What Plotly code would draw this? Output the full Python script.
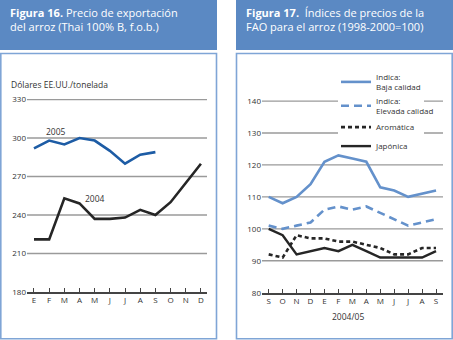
import plotly.graph_objects as go

W, H = 453, 340

# ---- data ----
months_left = ["E", "F", "M", "A", "M", "J", "J", "A", "S", "O", "N", "D"]
price_2004 = [221, 221, 253, 249, 237, 237, 238, 244, 240, 250, 265, 280]
price_2005 = [292, 298, 295, 300, 298, 290, 280, 287, 289]
left_yticks = [180, 210, 240, 270, 300, 330]

months_right = ["S", "O", "N", "D", "E", "F", "M", "A", "M", "J", "J", "A", "S"]
indica_baja = [110, 108, 110, 114, 121, 123, 122, 121, 113, 112, 110, 111, 112]
indica_elevada = [101, 100, 101, 102, 106, 107, 106, 107, 105, 103, 101, 102, 103]
aromatica = [92, 91, 98, 97, 97, 96, 96, 95, 94, 92, 92, 94, 94]
japonica = [100, 98, 92, 93, 94, 93, 95, 93, 91, 91, 91, 91, 93]
right_yticks = [80, 90, 100, 110, 120, 130, 140]


def px(x):
    return x / W


def py(y):
    return 1 - y / H


FONT = "Open Sans"
BLUE_DARK = "#1d5ca5"
BLUE_LIGHT = "#6491cb"
HEADER = "#5b89c3"
BORDER = "#7fa5d6"
GRID = "#9a9a9a"
TXT = "#333333"

fig = go.Figure()

# left chart
fig.add_trace(go.Scatter(x=list(range(len(price_2004))), y=price_2004, mode="lines",
                         line=dict(color="#262626", width=2.6), showlegend=False,
                         xaxis="x", yaxis="y"))
fig.add_trace(go.Scatter(x=list(range(len(price_2005))), y=price_2005, mode="lines",
                         line=dict(color=BLUE_DARK, width=2.6), showlegend=False,
                         xaxis="x", yaxis="y"))

# right chart
xr = list(range(len(months_right)))
fig.add_trace(go.Scatter(x=xr, y=indica_baja, mode="lines", name="Indica:<br>Baja calidad",
                         line=dict(color=BLUE_LIGHT, width=2.6), xaxis="x2", yaxis="y2"))
fig.add_trace(go.Scatter(x=xr, y=indica_elevada, mode="lines", name="Indica:<br>Elevada calidad",
                         line=dict(color=BLUE_LIGHT, width=2.6, dash="8px,5px"), xaxis="x2", yaxis="y2"))
fig.add_trace(go.Scatter(x=xr, y=aromatica, mode="lines", name="Aromática",
                         line=dict(color="#262626", width=2.6, dash="4px,3px"), xaxis="x2", yaxis="y2"))
fig.add_trace(go.Scatter(x=xr, y=japonica, mode="lines", name="Japónica",
                         line=dict(color="#262626", width=2.4), xaxis="x2", yaxis="y2"))

axis_common = dict(showgrid=False, zeroline=False, showline=True, linecolor="#444",
                   linewidth=1.5, ticks="inside", ticklen=4, tickwidth=1.3, tickcolor="#444",
                   tickfont=dict(family=FONT, size=8, color=TXT), fixedrange=True,
                   automargin=False)
yaxis_common = dict(showgrid=False, zeroline=False, showline=False, ticks="",
                    tickfont=dict(family=FONT, size=8, color=TXT), fixedrange=True,
                    automargin=False)

fig.update_layout(
    template="none",
    width=W, height=H, margin=dict(l=0, r=0, t=0, b=0),
    paper_bgcolor="white", plot_bgcolor="rgba(0,0,0,0)",
    xaxis=dict(domain=[px(27), px(207)], range=[-0.46, 11.4], anchor="y",
               tickvals=list(range(12)), ticktext=months_left, **axis_common),
    yaxis=dict(domain=[py(292), py(86.7)], range=[180, 340], tickvals=left_yticks,
               anchor="x", **yaxis_common),
    xaxis2=dict(domain=[px(262), px(443)], range=[-0.48, 12.5],
                tickvals=xr, ticktext=months_right, anchor="y2", **axis_common),
    yaxis2=dict(domain=[py(292.7), py(80)], range=[80, 146.6], tickvals=right_yticks,
                anchor="x2", **yaxis_common),
    legend=dict(x=px(336), y=py(65), xanchor="left", yanchor="top",
                bgcolor="rgba(0,0,0,0)", borderwidth=0, tracegroupgap=0,
                font=dict(family=FONT, size=8, color=TXT), itemwidth=30),
    showlegend=True,
)

shapes = [
    dict(type="rect", xref="paper", yref="paper", x0=px(0), x1=px(217), y0=py(50), y1=py(0),
         fillcolor=HEADER, line=dict(width=0), layer="below"),
    dict(type="rect", xref="paper", yref="paper", x0=px(236), x1=px(453), y0=py(50), y1=py(0),
         fillcolor=HEADER, line=dict(width=0), layer="below"),
    dict(type="rect", xref="paper", yref="paper", x0=px(0.8), x1=px(216.5), y0=py(338.8), y1=py(53.5),
         line=dict(color=BORDER, width=1.6), layer="below"),
    dict(type="rect", xref="paper", yref="paper", x0=px(236.5), x1=px(452.2), y0=py(338.8), y1=py(53.5),
         line=dict(color=BORDER, width=1.6), layer="below"),
]
# horizontal reference lines, positioned through each chart's own y scale
for v in left_yticks[1:]:
    shapes.append(dict(type="line", xref="paper", yref="y", x0=px(27), x1=px(207), y0=v, y1=v,
                       line=dict(color=GRID, width=1.3), layer="below"))
for v in right_yticks[1:]:
    if v >= 130:  # interrupted behind the legend block
        segs = [(262, 338), (424, 443)]
    else:
        segs = [(262, 443)]
    for a, b in segs:
        shapes.append(dict(type="line", xref="paper", yref="y2", x0=px(a), x1=px(b), y0=v, y1=v,
                           line=dict(color=GRID, width=1.3), layer="below"))
fig.update_layout(shapes=shapes)

ann = [
    dict(x=px(8), y=py(3), text="<b>Figura 16.</b> Precio de exportación<br>del arroz (Thai 100% B, f.o.b.)",
         xanchor="left", yanchor="top", align="left", font=dict(family=FONT, size=11, color="white")),
    dict(x=px(244), y=py(3), text="<b>Figura 17.</b>  Índices de precios de la<br>FAO para el arroz (1998-2000=100)",
         xanchor="left", yanchor="top", align="left", font=dict(family=FONT, size=11, color="white")),
    dict(x=px(9), y=py(84), text="Dólares EE.UU./tonelada", xanchor="left", yanchor="middle",
         font=dict(family=FONT, size=8.5, color=TXT)),
    dict(x=px(56), y=py(131), text="2005", xanchor="center", yanchor="middle",
         font=dict(family=FONT, size=8.5, color=TXT)),
    dict(x=px(95), y=py(198), text="2004", xanchor="center", yanchor="middle",
         font=dict(family=FONT, size=8.5, color=TXT)),
    dict(x=px(348), y=py(316), text="2004/05", xanchor="center", yanchor="middle",
         font=dict(family=FONT, size=8.5, color=TXT)),
]
for a in ann:
    a.update(xref="paper", yref="paper", showarrow=False)
fig.update_layout(annotations=ann)

fig.write_html("out.html")
